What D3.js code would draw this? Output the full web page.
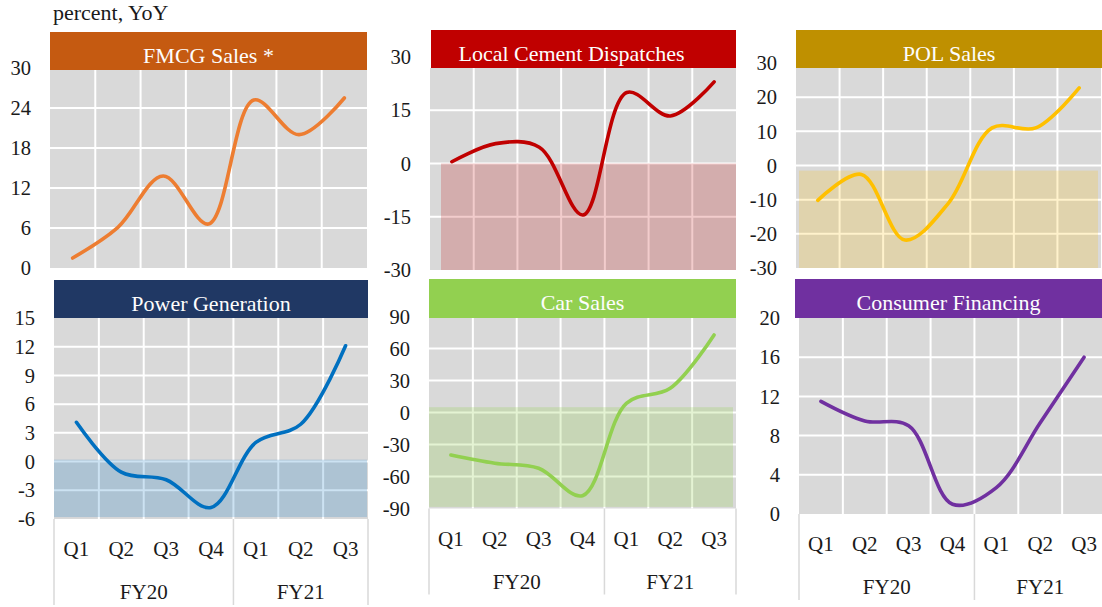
<!DOCTYPE html>
<html>
<head>
<meta charset="utf-8">
<script src="https://cdn.jsdelivr.net/npm/d3@7"></script>
<style>
  html, body { margin: 0; padding: 0; background: #fff; }
  svg { display: block; }
  text { font-family: "Liberation Serif", "Times New Roman", serif; }
</style>
</head>
<body>
<svg id="chart" width="1102" height="607"></svg>
<script>
// ---------- data ----------
const quarters = ["Q1", "Q2", "Q3", "Q4", "Q1", "Q2", "Q3"];
const fiscalYears = ["FY20", "FY21"];
const fiscalYearSpans = [4, 3];

const fmcgSales        = [1.5, 6.1, 13.8, 6.6, 25.2, 20.0, 25.5];
const cementDispatches = [0.5, 5.6, 4.6, -14.5, 20.0, 13.4, 23.0];
const polSales         = [-10.2, -2.6, -21.8, -11.0, 11.0, 11.0, 22.7];
const powerGeneration  = [4.1, -1.1, -1.9, -4.8, 2.0, 3.9, 12.1];
const carSales         = [-39.8, -47.5, -52.3, -78.0, 8.6, 22.7, 72.7];
const consumerFinancing= [11.5, 9.5, 9.0, 1.0, 2.7, 9.3, 16.0];

const fmcgTicks   = [0, 6, 12, 18, 24, 30];
const cementTicks = [-30, -15, 0, 15, 30];
const polTicks    = [-30, -20, -10, 0, 10, 20, 30];
const powerTicks  = [-6, -3, 0, 3, 6, 9, 12, 15];
const carTicks    = [-90, -60, -30, 0, 30, 60, 90];
const cfTicks     = [0, 4, 8, 12, 16, 20];

// ---------- layout / style ----------
const panels = [
  { title: "FMCG Sales *", values: fmcgSales, ticks: fmcgTicks, domain: [0, 30],
    x0: 50, x1: 367, yTop: 68, yBot: 268, bar: [50, 367, 32, 70], titleDx: 0,
    barColor: "#c55a11", lineColor: "#ed7d31", shade: null, xAxis: false },
  { title: "Local Cement Dispatches", values: cementDispatches, ticks: cementTicks, domain: [-30, 30],
    x0: 430, x1: 736, yTop: 57, yBot: 270, bar: [431, 736, 30, 68], titleDx: -12,
    barColor: "#c00000", lineColor: "#c00000",
    shade: { hi: 0, lo: -30, inL: 11, inR: 0, fill: "rgba(192,0,0,0.2)" }, xAxis: false },
  { title: "POL Sales", values: polSales, ticks: polTicks, domain: [-30, 30],
    x0: 796, x1: 1101, yTop: 63, yBot: 268, bar: [796, 1102, 30, 68], titleDx: 0,
    barColor: "#bf9000", lineColor: "#ffc000",
    shade: { hi: -1.5, lo: -30, inL: 3, inR: 3, fill: "rgba(255,192,0,0.2)" }, xAxis: false },
  { title: "Power Generation", values: powerGeneration, ticks: powerTicks, domain: [-6, 15],
    x0: 54, x1: 368, yTop: 318, yBot: 519, bar: [54, 368, 280, 318], titleDx: 0,
    barColor: "#203864", lineColor: "#0070c0",
    shade: { hi: 0.2, lo: -5.8, inL: 0, inR: 1, fill: "rgba(0,112,192,0.2)" }, xAxis: true },
  { title: "Car Sales", values: carSales, ticks: carTicks, domain: [-90, 90],
    x0: 429, x1: 736, yTop: 316.5, yBot: 508.5, bar: [429, 736, 279, 318], titleDx: 0,
    barColor: "#92d050", lineColor: "#92d050",
    shade: { hi: 5, lo: -88.5, inL: 0, inR: 3, fill: "rgba(146,208,80,0.25)" }, xAxis: true },
  { title: "Consumer Financing", values: consumerFinancing, ticks: cfTicks, domain: [0, 20],
    x0: 799, x1: 1106, yTop: 318, yBot: 514, bar: [795, 1102, 279, 318], titleDx: 0,
    barColor: "#7030a0", lineColor: "#7030a0", shade: null, xAxis: true }
];

const svg = d3.select("#chart");

svg.append("text")
  .attr("x", 53).attr("y", 20)
  .attr("font-size", 22).attr("fill", "#1a1a1a")
  .text("percent, YoY");

panels.forEach(p => {
  const g = svg.append("g");
  const x = d3.scaleBand().domain(d3.range(quarters.length)).range([p.x0, p.x1]).padding(0);
  const y = d3.scaleLinear().domain(p.domain).range([p.yBot, p.yTop]);
  const plotTop = p.bar[3];

  // background
  g.append("rect").attr("x", p.x0).attr("y", plotTop)
    .attr("width", p.x1 - p.x0).attr("height", p.yBot - plotTop).attr("fill", "#d9d9d9");

  // horizontal grid
  g.selectAll(".hg").data(p.ticks.filter(t => t !== p.domain[0] && y(t) > plotTop + 1))
    .enter().append("line")
    .attr("x1", p.x0).attr("x2", p.x1)
    .attr("y1", d => y(d)).attr("y2", d => y(d))
    .attr("stroke", "#fff").attr("stroke-width", 2);

  // vertical grid
  g.selectAll(".vg").data(d3.range(1, quarters.length))
    .enter().append("line")
    .attr("x1", d => x(d)).attr("x2", d => x(d))
    .attr("y1", plotTop).attr("y2", p.yBot)
    .attr("stroke", "#fff").attr("stroke-width", 2);

  // shade
  if (p.shade) {
    g.append("rect")
      .attr("x", p.x0 + p.shade.inL)
      .attr("y", y(p.shade.hi))
      .attr("width", p.x1 - p.x0 - p.shade.inL - p.shade.inR)
      .attr("height", y(p.shade.lo) - y(p.shade.hi))
      .attr("fill", p.shade.fill);
  }

  // line
  const line = d3.line()
    .x((d, i) => x(i) + x.bandwidth() / 2)
    .y(d => y(d))
    .curve(d3.curveCatmullRom.alpha(0.5));
  g.append("path").datum(p.values)
    .attr("d", line)
    .attr("fill", "none")
    .attr("stroke", p.lineColor)
    .attr("stroke-width", 3.6)
    .attr("stroke-linecap", "round")
    .attr("stroke-linejoin", "round");

  // title bar
  g.append("rect").attr("x", p.bar[0]).attr("y", p.bar[2])
    .attr("width", p.bar[1] - p.bar[0]).attr("height", p.bar[3] - p.bar[2])
    .attr("fill", p.barColor);
  g.append("text")
    .attr("x", (p.bar[0] + p.bar[1]) / 2 + p.titleDx)
    .attr("y", p.bar[2] + 31)
    .attr("text-anchor", "middle")
    .attr("font-size", 22)
    .attr("fill", "#fdfdfd")
    .text(p.title);

  // y tick labels
  g.selectAll(".yt").data(p.ticks).enter().append("text")
    .attr("x", p.x0 - 19)
    .attr("y", d => y(d))
    .attr("dy", "0.35em")
    .attr("text-anchor", "end")
    .attr("font-size", 20.5)
    .attr("fill", "#1a1a1a")
    .text(d => d);

  // x axis (bottom row)
  if (p.xAxis) {
    g.selectAll(".xq").data(quarters).enter().append("text")
      .attr("x", (d, i) => x(i) + x.bandwidth() / 2)
      .attr("y", p.yBot + 37)
      .attr("text-anchor", "middle")
      .attr("font-size", 21)
      .attr("fill", "#1a1a1a")
      .text(d => d);

    let start = 0;
    const groups = fiscalYears.map((fy, k) => {
      const s = start; start += fiscalYearSpans[k];
      return { fy, s, e: start };
    });
    g.selectAll(".xf").data(groups).enter().append("text")
      .attr("x", d => (x(d.s) + (d.e < quarters.length ? x(d.e) : p.x1)) / 2)
      .attr("y", p.yBot + 80)
      .attr("text-anchor", "middle")
      .attr("font-size", 21)
      .attr("fill", "#1a1a1a")
      .text(d => d.fy);

    const seps = [p.x0, x(fiscalYearSpans[0]), p.x1];
    g.selectAll(".sep").data(seps).enter().append("line")
      .attr("x1", d => d).attr("x2", d => d)
      .attr("y1", p.yBot).attr("y2", p.yBot + 86)
      .attr("stroke", "#d9d9d9").attr("stroke-width", 1.5);
  }
});
</script>
</body>
</html>
